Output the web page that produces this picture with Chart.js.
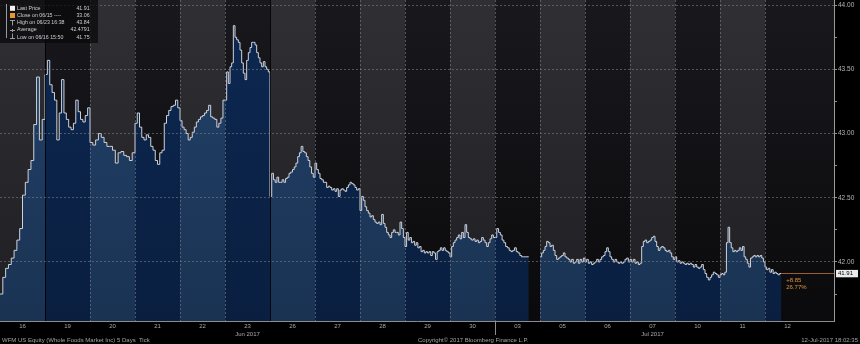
<!DOCTYPE html>
<html>
<head>
<meta charset="utf-8">
<script src="https://cdn.jsdelivr.net/npm/chart.js@4.4.1/dist/chart.umd.min.js"></script>
<style>
    html, body { margin: 0; padding: 0; background: #000; }
    #wrap { position: relative; width: 860px; height: 344px; overflow: hidden; font-family: "Liberation Sans", Arial, sans-serif; }
    canvas { display: block; }
    #legRows { position: absolute; left: 16.5px; top: 4.6px; width: 82.5px; transform: scaleX(0.88); transform-origin: 0 0; }
    .legRow { display: flex; justify-content: space-between; font-size: 6px; line-height: 7.25px; height: 7.25px; color: #cfcfcf; white-space: nowrap; }
    .foot { position: absolute; top: 336.5px; font-size: 6px; line-height: 7px; color: #a3a3a3; white-space: nowrap; }
</style>
</head>
<body>
<div id="wrap">
    <canvas id="myChart" width="860" height="344"></canvas>
    <div id="legRows"></div>
    <div class="foot" style="left:2px">WFM US Equity (Whole Foods Market Inc) 5 Days&nbsp; Tick</div>
    <div class="foot" style="left:418px">Copyright© 2017 Bloomberg Finance L.P.</div>
    <div class="foot" style="right:2px">12-Jul-2017 18:02:35</div>
</div>
<script>
"use strict"

const dayLabels = ["16", "19", "20", "21", "22", "23", "26", "27", "28", "29", "30", "03", "05", "06", "07", "10", "11", "12"];
const monthLabels = ["", "", "", "", "", "Jun 2017", "", "", "", "", "", "", "", "", "Jul 2017", "", "", ""];
// part of the day that was traded (03 is a half day, 12 is still running)
const daySpans = [1, 1, 1, 1, 1, 1, 1, 1, 1, 1, 1, 0.75, 1, 1, 1, 1, 1, 0.36];
const yTicks = [41.75, 42.00, 42.25, 42.50, 42.75, 43.00, 43.25, 43.50, 43.75, 44.00];

const prices16 = [41.75, 41.88, 41.95, 41.98, 42.03, 42.09, 42.17, 42.26, 42.52, 42.62, 42.72, 42.79, 43.07, 43.44, 42.95, 43.11];
const prices19 = [43.46, 43.57, 43.38, 43.32, 43.26, 42.95, 43.16, 43.42, 43.16, 43.11, 43.05, 43.03, 43.08, 43.26, 43.17, 43.11, 43.09, 43.14, 43.20];
const prices20 = [42.93, 42.91, 42.95, 43.00, 42.97, 42.93, 42.90, 42.90, 42.87, 42.77, 42.85, 42.86, 42.83, 42.82, 42.79, 42.85];
const prices21 = [43.08, 43.16, 43.05, 42.97, 42.95, 42.99, 42.97, 42.90, 42.87, 42.79, 42.76, 42.85, 42.87, 43.08, 43.14, 43.18, 43.21, 43.22, 43.26, 43.20];
const prices22 = [43.10, 43.05, 43.03, 43.00, 42.95, 42.97, 43.01, 43.05, 43.09, 43.11, 43.13, 43.14, 43.16, 43.18, 43.22, 43.13, 43.12, 43.11, 43.05, 43.08, 43.12, 43.26];
const prices23 = [43.26, 43.48, 43.39, 43.52, 43.55, 43.84, 43.75, 43.73, 43.71, 43.65, 43.55, 43.47, 43.42, 43.57, 43.63, 43.67, 43.71, 43.71, 43.69, 43.63, 43.59, 43.55, 43.52, 43.56, 43.52, 43.50, 43.48];
const prices26 = [42.51, 42.69, 42.64, 42.62, 42.66, 42.62, 42.62, 42.64, 42.62, 42.65, 42.66, 42.69, 42.70, 42.72, 42.74, 42.77, 42.82, 42.85, 42.90, 42.86, 42.85, 42.82, 42.79, 42.74, 42.69, 42.66];
const prices27 = [42.77, 42.72, 42.69, 42.65, 42.64, 42.62, 42.62, 42.58, 42.59, 42.58, 42.56, 42.57, 42.55, 42.57, 42.51, 42.56, 42.57, 42.56, 42.55, 42.58, 42.60, 42.62, 42.61, 42.60, 42.58, 42.56, 42.57];
const prices28 = [42.40, 42.51, 42.48, 42.43, 42.40, 42.38, 42.35, 42.36, 42.33, 42.31, 42.30, 42.31, 42.29, 42.37, 42.30, 42.27, 42.23, 42.21, 42.19, 42.23, 42.25, 42.23, 42.23, 42.21, 42.31, 42.26, 42.19];
const prices29 = [42.12, 42.23, 42.17, 42.19, 42.15, 42.16, 42.13, 42.15, 42.11, 42.12, 42.08, 42.09, 42.07, 42.08, 42.07, 42.08, 42.05, 42.08, 42.07, 42.02, 42.08, 42.09, 42.11, 42.09, 42.11, 42.09, 42.08, 42.07];
const prices30 = [42.04, 42.12, 42.15, 42.17, 42.19, 42.21, 42.18, 42.23, 42.19, 42.29, 42.23, 42.19, 42.18, 42.17, 42.18, 42.16, 42.17, 42.15, 42.16, 42.19, 42.17, 42.15, 42.12, 42.15, 42.18, 42.21, 42.19];
const prices03 = [42.19, 42.26, 42.23, 42.21, 42.17, 42.15, 42.12, 42.11, 42.09, 42.08, 42.09, 42.11, 42.08, 42.07, 42.05, 42.04, 42.04, 42.04, 42.04, 42.04];
const prices05 = [42.04, 42.07, 42.09, 42.12, 42.16, 42.15, 42.12, 42.13, 42.09, 42.05, 42.02, 42.03, 42.04, 42.05, 42.07, 42.04, 42.03, 42.02, 42.00, 42.02, 41.99, 42.00, 42.02, 41.99, 42.02, 42.00, 42.03];
const prices06 = [42.00, 42.02, 41.99, 42.00, 41.98, 41.99, 42.00, 42.02, 42.00, 42.02, 42.04, 42.05, 42.08, 42.11, 42.08, 42.04, 42.02, 42.00, 42.02, 42.00, 41.99, 42.00, 41.99, 42.00, 42.02, 42.03, 42.00];
const prices07 = [42.02, 42.00, 42.02, 41.99, 42.00, 41.98, 41.99, 42.12, 42.16, 42.17, 42.15, 42.16, 42.17, 42.19, 42.20, 42.16, 42.12, 42.09, 42.11, 42.12, 42.11, 42.09, 42.08, 42.09, 42.07, 42.04, 42.02];
const prices10 = [42.04, 42.00, 42.01, 41.99, 42.00, 41.99, 41.98, 41.99, 41.98, 41.99, 41.98, 41.96, 41.98, 41.96, 41.95, 41.96, 41.98, 41.94, 41.91, 41.88, 41.86, 41.88, 41.90, 41.92, 41.91, 41.90, 41.88];
const prices11 = [41.90, 41.91, 41.90, 41.92, 42.15, 42.27, 42.15, 42.11, 42.08, 42.09, 42.08, 42.09, 42.11, 42.09, 42.12, 42.04, 42.02, 41.99, 41.96, 42.03, 42.04, 42.05, 42.04, 42.05, 42.04, 42.05, 42.03, 42.00];
const prices12 = [41.96, 41.94, 41.95, 41.92, 41.94, 41.91, 41.92, 41.91, 41.90, 41.91, 41.91];

const dayPrices = [prices16, prices19, prices20, prices21, prices22, prices23, prices26, prices27, prices28,
    prices29, prices30, prices03, prices05, prices06, prices07, prices10, prices11, prices12];

const lastPrice = 41.91;
const netChange = "+8.85";
const pctChange = "26.77%";
const legendRows = [
    ["Last Price", "41.91"],
    ["Close on 06/15 ----", "33.06"],
    ["High on 06/23 16:38", "43.84"],
    ["Average", "42.4791"],
    ["Low on 06/16 15:50", "41.75"]
];

const yMin = 41.54;
const yMax = 44.04;
const xMax = 834 / 45;

class TickChart{
    document;
    canvas;
    chart;
    points;
    fillPattern;

    constructor(document){
        this.document = document;
        this.canvas = document.getElementById("myChart");
        this.points = [];
        this.fillPattern = null;
    }

    buildPoints(){
        dayPrices.forEach((vals, i) => {
            const span = daySpans[i];
            vals.forEach((v, j) => {
                const frac = span < 1 ? span * j / (vals.length - 1) : j / vals.length;
                this.points.push({ x: i + frac, y: v });
            });
            if (span < 1 && i < dayPrices.length - 1){
                this.points.push({ x: i + span + 0.01, y: null });
            }
        });
        console.log("buildPoints completed");
    }

    isMajor(v){
        return Math.abs(v * 2 - Math.round(v * 2)) < 1e-6;
    }

    bandColors(i, light, dark){
        return (i % 2 === 0 && i < dayLabels.length) ? light : dark;
    }

    paintBands(ctx, chart, top, bottom){
        const a = chart.chartArea;
        const xs = chart.scales.x;
        for (let i = 0; i < Math.ceil(xMax); i++){
            const x0 = xs.getPixelForValue(i);
            const x1 = Math.min(xs.getPixelForValue(i + 1), a.right);
            const g = ctx.createLinearGradient(0, a.top, 0, a.bottom);
            g.addColorStop(0, this.bandColors(i, top[0], top[1]));
            g.addColorStop(1, this.bandColors(i, bottom[0], bottom[1]));
            ctx.fillStyle = g;
            ctx.fillRect(x0, a.top, x1 - x0, a.bottom - a.top);
        }
    }

    makeFillPattern(chart){
        const off = this.document.createElement("canvas");
        off.width = chart.width;
        off.height = chart.height;
        const c = off.getContext("2d");
        this.paintBands(c, chart, ["#22416a", "#0d2852"], ["#1a3353", "#0a1f40"]);
        return chart.ctx.createPattern(off, "no-repeat");
    }

    drawDayLines(chart){
        const { ctx, chartArea: a, scales: { x } } = chart;
        ctx.save();
        ctx.lineWidth = 1;
        for (let i = 1; i < dayLabels.length; i++){
            const px = Math.round(x.getPixelForValue(i)) + 0.5;
            ctx.beginPath();
            if (i === 1 || i === 6){
                ctx.setLineDash([]);
                ctx.strokeStyle = "rgba(0,0,0,0.85)";
            } else {
                ctx.setLineDash([2, 2]);
                ctx.strokeStyle = "rgba(125,125,130,0.6)";
            }
            ctx.moveTo(px, a.top);
            ctx.lineTo(px, a.bottom);
            ctx.stroke();
        }
        ctx.restore();
    }

    drawOverlay(chart){
        const { ctx, chartArea: a, scales: { x, y } } = chart;
        const last = this.points[this.points.length - 1];
        const lastX = x.getPixelForValue(last.x);
        const yp = Math.round(y.getPixelForValue(lastPrice)) + 0.5;
        ctx.save();

        // last price line and change text
        ctx.strokeStyle = "rgba(190,115,55,0.8)";
        ctx.lineWidth = 1;
        ctx.beginPath();
        ctx.moveTo(lastX, yp);
        ctx.lineTo(a.right, yp);
        ctx.stroke();
        ctx.fillStyle = "#e0913f";
        ctx.font = "6px 'Liberation Sans', Arial, sans-serif";
        ctx.textBaseline = "middle";
        ctx.textAlign = "left";
        ctx.fillText(netChange, lastX + 5, yp + 7);
        ctx.fillText(pctChange, lastX + 5, yp + 13.5);

        // value box on the axis
        ctx.fillStyle = "#ececec";
        ctx.fillRect(a.right + 2, yp - 3.6, 22, 7.4);
        ctx.fillStyle = "#000";
        ctx.fillText(lastPrice.toFixed(2), a.right + 4, yp + 0.3);

        // month separator below the axis
        const mx = Math.round(x.getPixelForValue(11)) + 0.5;
        ctx.strokeStyle = "#8c8c8c";
        ctx.beginPath();
        ctx.moveTo(mx, a.bottom);
        ctx.lineTo(mx, a.bottom + 14);
        ctx.stroke();

        // legend box with its icons
        ctx.fillStyle = "rgba(8,8,11,0.74)";
        ctx.fillRect(0, 0, 98, 43);
        ctx.fillStyle = "#f2f2f2";
        ctx.fillRect(10, 5.8, 5, 5);
        ctx.fillStyle = "#e8962e";
        ctx.fillRect(10, 13, 5, 5);
        ctx.strokeStyle = "#9a9a9a";
        ctx.beginPath();
        ctx.moveTo(6.5, 4); ctx.lineTo(6.5, 38);
        ctx.moveTo(10, 20.5); ctx.lineTo(15, 20.5);
        ctx.moveTo(12.5, 20.5); ctx.lineTo(12.5, 25.5);
        ctx.moveTo(10, 30.5); ctx.lineTo(15, 30.5);
        ctx.moveTo(12.5, 29); ctx.lineTo(12.5, 32);
        ctx.moveTo(12.5, 33.5); ctx.lineTo(12.5, 38);
        ctx.moveTo(10, 38.5); ctx.lineTo(15, 38.5);
        ctx.stroke();
        ctx.restore();
    }

    initChart(){
        const self = this;
        const bandPlugin = {
            id: "bands",
            afterLayout(chart){
                self.fillPattern = self.makeFillPattern(chart);
            },
            beforeDraw(chart){
                const ctx = chart.ctx;
                ctx.save();
                ctx.fillStyle = "#000";
                ctx.fillRect(0, 0, chart.width, chart.height);
                self.paintBands(ctx, chart, ["#302f34", "#19181c"], ["#1f1e22", "#0a0a0d"]);
                ctx.restore();
            },
            afterDatasetsDraw(chart){
                self.drawDayLines(chart);
            },
            afterDraw(chart){
                self.drawOverlay(chart);
            }
        };

        const font = "'Liberation Sans', Arial, sans-serif";
        this.chart = new Chart(this.canvas.getContext("2d"), {
            type: "line",
            data: {
                datasets: [{
                    label: "WFM US Equity",
                    data: this.points,
                    borderColor: "#cdd2da",
                    borderWidth: 1,
                    stepped: true,
                    pointRadius: 0,
                    spanGaps: false,
                    fill: "start",
                    backgroundColor: () => self.fillPattern || "#183252"
                }]
            },
            options: {
                responsive: false,
                animation: false,
                devicePixelRatio: 1,
                layout: { padding: 0 },
                plugins: {
                    legend: { display: false },
                    tooltip: { enabled: false }
                },
                scales: {
                    x: {
                        type: "linear",
                        min: 0,
                        max: xMax,
                        grid: { display: false, drawTicks: false, tickLength: 0 },
                        border: { color: "#8c8c8c", z: 1 },
                        afterBuildTicks: (s) => { s.ticks = dayLabels.map((d, i) => ({ value: i + 0.5 })); },
                        afterFit: (s) => { s.height = 23; s.paddingLeft = 0; s.paddingRight = 0; },
                        ticks: {
                            autoSkip: false,
                            maxRotation: 0,
                            padding: 1,
                            color: "#a9a9a9",
                            font: { family: font, size: 6, lineHeight: 1.34 },
                            callback: (v, i) => monthLabels[i] ? [dayLabels[i], monthLabels[i]] : dayLabels[i]
                        }
                    },
                    y: {
                        position: "right",
                        min: yMin,
                        max: yMax,
                        afterBuildTicks: (s) => { s.ticks = yTicks.map(v => ({ value: v })); },
                        afterFit: (s) => { s.width = 26; s.paddingTop = 0; s.paddingBottom = 0; },
                        grid: {
                            z: 1,
                            lineWidth: 1,
                            tickLength: 3,
                            tickColor: "#8c8c8c",
                            color: (c) => (c.tick && self.isMajor(c.tick.value)) ? "rgba(125,125,130,0.6)" : "rgba(0,0,0,0)"
                        },
                        border: { color: "#9a9a9a", dash: [2, 2], z: 1 },
                        ticks: {
                            padding: 1,
                            color: "#b4b4b4",
                            font: { family: font, size: 6.5 },
                            callback: (v) => self.isMajor(v) ? v.toFixed(2) : ""
                        }
                    }
                }
            },
            plugins: [bandPlugin]
        });
        console.log("initChart completed");
    }

    fillLegend(){
        const box = this.document.getElementById("legRows");
        legendRows.forEach(([label, value]) => {
            const row = this.document.createElement("div");
            row.className = "legRow";
            const l = this.document.createElement("span");
            l.textContent = label;
            const r = this.document.createElement("span");
            r.textContent = value;
            row.appendChild(l);
            row.appendChild(r);
            box.appendChild(row);
        });
    }

    run(){
        this.buildPoints();
        this.fillLegend();
        this.initChart();
        console.log("run completed");
    }
}

const tickChart = new TickChart(document);

tickChart.run();
</script>
</body>
</html>
